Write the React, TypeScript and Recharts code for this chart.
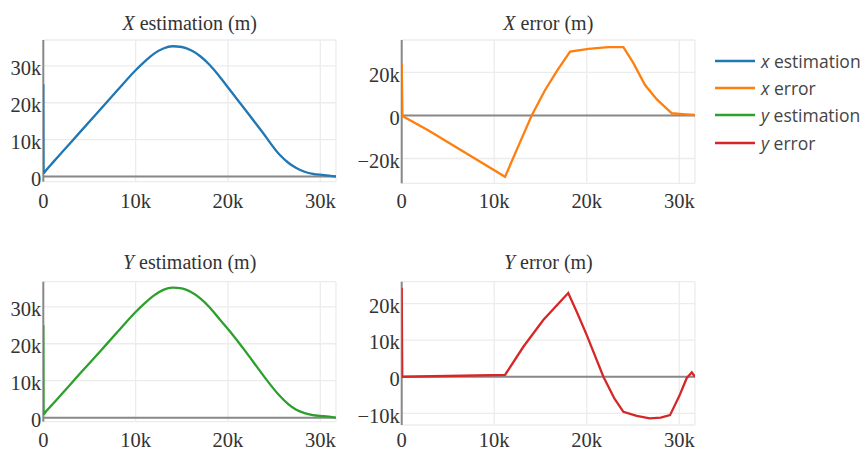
import { LineChart, Line, XAxis, YAxis, CartesianGrid, ReferenceLine } from "recharts";

const xTicks = [0, 10000, 20000, 30000];

const xEstX = [0, 30, 300, 1000, 2000, 4000, 6000, 8000, 10000, 11000, 12000, 13000, 14000, 15000, 16000, 17000, 18000, 19000, 20200, 22000, 23800, 25600, 26500, 27400, 28300, 29200, 30400, 31700];
const xEstY = [25000, 900, 1700, 3700, 6500, 12100, 17700, 23300, 28800, 31200, 33300, 34700, 35300, 35100, 34200, 32600, 30300, 27400, 23500, 17700, 11800, 5900, 3800, 2300, 1300, 700, 400, 0];

const yEstX = [0, 30, 300, 1000, 2000, 4000, 6000, 8000, 10000, 11000, 12000, 13000, 14000, 15000, 16000, 17000, 18000, 19000, 20200, 22000, 23800, 25600, 26500, 27400, 28300, 29200, 30400, 31700];
const yEstY = [25000, 900, 1700, 3600, 6400, 12000, 17500, 23100, 28600, 31000, 33100, 34600, 35200, 35000, 34000, 32300, 29900, 26900, 23400, 17600, 11500, 5900, 3700, 2100, 1200, 700, 400, 0];

const xErrX = [0, 80, 2900, 11170, 12500, 14050, 15500, 16800, 18200, 20200, 22300, 23960, 25000, 26300, 27600, 29200, 30300, 31700];
const xErrY = [24200, -300, -7000, -28500, -15300, 0, 11800, 20800, 29600, 30900, 31700, 31700, 24600, 14100, 7300, 1000, 600, 200];

const yErrX = [0, 60, 5000, 11170, 13150, 15300, 18000, 19000, 20000, 21800, 23000, 23960, 25400, 26800, 28000, 29000, 30000, 30800, 31350, 31700];
const yErrY = [24300, 0, 200, 500, 8200, 15500, 22900, 17300, 11400, 0, -6000, -9600, -10700, -11400, -11200, -10500, -5300, -400, 1200, 0];

const legendNames = ["estimation", "error", "estimation", "error"];
const legendVars = ["x", "x", "y", "y"];
const colors = ["#1f77b4", "#ff7f0e", "#2ca02c", "#d62728"];

const toRows = (xs: number[], ys: number[]) => xs.map((x, i) => ({ x, y: ys[i] }));

const fmt = (v: number) => (v === 0 ? "0" : `${v < 0 ? "\u2212" : ""}${Math.abs(v) / 1000}k`);

const serif = "'Liberation Serif', 'Times New Roman', serif";

type PanelProps = {
  left: number;
  top: number;
  axisW: number;
  plotTop: number;
  pw: number;
  ph: number;
  domain: [number, number];
  yTicks: number[];
  data: { x: number; y: number }[];
  color: string;
  curve: "monotone" | "linear";
  tickGap: number;
  v: string;
  label: string;
  titleTop: number;
};

function Panel(p: PanelProps) {
  const width = p.axisW + p.pw + 4;
  const height = p.plotTop + p.ph + 32;
  return (
    <div style={{ position: "absolute", left: p.left, top: p.top, width, height }}>
      <div
        style={{
          position: "absolute",
          left: p.axisW,
          width: p.pw,
          top: p.titleTop,
          textAlign: "center",
          fontFamily: serif,
          fontSize: 20,
          lineHeight: "20px",
          color: "#333",
          whiteSpace: "nowrap",
        }}
      >
        <i>{p.v}</i> {p.label} (m)
      </div>
      <LineChart width={width} height={height} data={p.data} margin={{ top: p.plotTop, right: 4, bottom: 2, left: 0 }}>
        <CartesianGrid stroke="#ececec" strokeWidth={1.3} />
        <XAxis
          type="number"
          dataKey="x"
          domain={[0, 31700]}
          ticks={xTicks}
          allowDataOverflow
          height={30}
          axisLine={false}
          tickLine={false}
          tickSize={0}
          tickMargin={p.tickGap}
          tickFormatter={fmt}
          tick={{ fontSize: 20.5, fill: "#333", fontFamily: serif }}
        />
        <YAxis
          type="number"
          domain={p.domain}
          ticks={p.yTicks}
          allowDataOverflow
          width={p.axisW}
          axisLine={{ stroke: "#888", strokeWidth: 2 }}
          tickLine={false}
          tickSize={0}
          tickMargin={2}
          tickFormatter={fmt}
          tick={{ fontSize: 20.5, fill: "#333", fontFamily: serif, dy: 2 }}
        />
        <ReferenceLine y={0} stroke="#888" strokeWidth={2} zIndex={300} />
        <Line
          type={p.curve}
          dataKey="y"
          stroke={p.color}
          strokeWidth={2.3}
          dot={false}
          isAnimationActive={false}
          zIndex={700}
        />
      </LineChart>
    </div>
  );
}

function LegendBox() {
  return (
    <div style={{ position: "absolute", left: 715, top: 47, fontFamily: "'Open Sans', sans-serif", fontSize: 17.5, color: "#444" }}>
      {legendNames.map((n, i) => (
        <div key={i} style={{ height: 27.4, display: "flex", alignItems: "center", whiteSpace: "nowrap" }}>
          <svg width={46} height={10} style={{ flex: "none" }}>
            <line x1={0} x2={40} y1={5} y2={5} stroke={colors[i]} strokeWidth={2.3} />
          </svg>
          <span>
            <i>{legendVars[i]}</i> {n}
          </span>
        </div>
      ))}
    </div>
  );
}

export default function App() {
  return (
    <div style={{ position: "absolute", left: 0, top: 0, width: 866, height: 452, background: "#fff", overflow: "hidden" }}>
      <Panel left={0} top={0} axisW={43.3} plotTop={40} pw={292.7} ph={141.7} domain={[-1400, 37000]} yTicks={[0, 10000, 20000, 30000]} data={toRows(xEstX, xEstY)} color={colors[0]} curve="monotone" tickGap={11.7} v="X" label="estimation" titleTop={12.5} />
      <Panel left={346} top={0} axisW={55.7} plotTop={40} pw={293.3} ph={143.3} domain={[-31500, 35000]} yTicks={[-20000, 0, 20000]} data={toRows(xErrX, xErrY)} color={colors[1]} curve="linear" tickGap={10.1} v="X" label="error" titleTop={12.5} />
      <Panel left={0} top={240} axisW={43.3} plotTop={41.7} pw={292.7} ph={140} domain={[-1100, 36800]} yTicks={[0, 10000, 20000, 30000]} data={toRows(yEstX, yEstY)} color={colors[2]} curve="monotone" tickGap={11.2} v="Y" label="estimation" titleTop={11.5} />
      <Panel left={346} top={240} axisW={55.7} plotTop={41.7} pw={293.3} ph={143.3} domain={[-13200, 26000]} yTicks={[-10000, 0, 10000, 20000]} data={toRows(yErrX, yErrY)} color={colors[3]} curve="linear" tickGap={7.9} v="Y" label="error" titleTop={11.5} />
      <LegendBox />
    </div>
  );
}
